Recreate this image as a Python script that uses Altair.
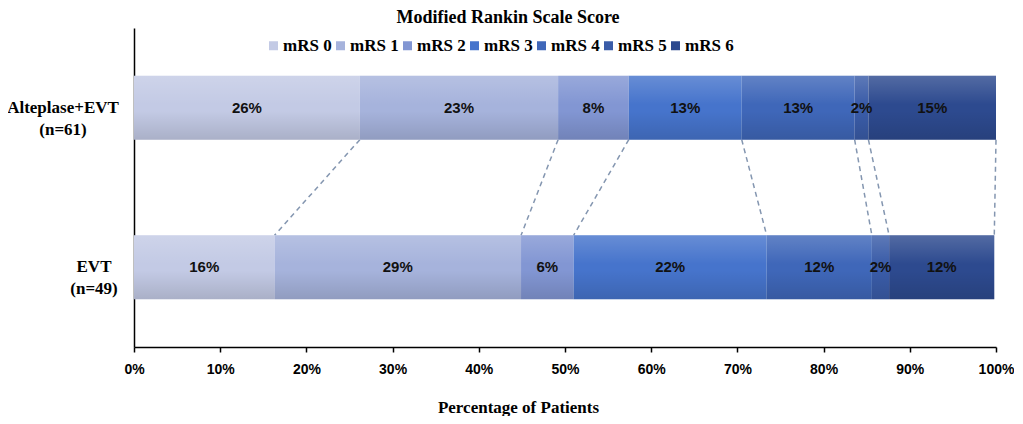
import altair as alt
import pandas as pd

# ---------------- data ----------------
chart_title = "Modified Rankin Scale Score"
x_title = "Percentage of Patients"
groups = ["Alteplase+EVT\n(n=61)", "EVT\n(n=49)"]
categories = ["mRS 0", "mRS 1", "mRS 2", "mRS 3", "mRS 4", "mRS 5", "mRS 6"]
alteplase_evt = [26.2, 23.0, 8.2, 13.1, 13.1, 1.6, 14.8]
evt_only = [16.3, 28.6, 6.1, 22.4, 12.2, 2.0, 12.2]
x_ticks = [0, 10, 20, 30, 40, 50, 60, 70, 80, 90, 100]

# ---------------- style ----------------
colors = ["#c3cae5", "#a6b3dc", "#8296d3", "#4674cc", "#3f67b9", "#3a5ca8", "#2d4a8f"]
group_pos = [1.5, 0.5]     # row positions on the y scale
half = 0.2                 # half bar thickness in y units
W, H = 862, 319

series = [alteplase_evt, evt_only]
rows, conns = [], []
for gi, (g, vals) in enumerate(zip(groups, series)):
    cum = 0.0
    for c, v in zip(categories, vals):
        rows.append(dict(group=g, cat=c, start=cum, end=cum + v, mid=cum + v / 2,
                         label=f"{round(v)}%", pos=group_pos[gi],
                         y0=group_pos[gi] - half, y1=group_pos[gi] + half))
        cum += v
df = pd.DataFrame(rows)

cumA, cumB = 0.0, 0.0
for a, b in zip(alteplase_evt, evt_only):
    cumA += a
    cumB += b
    conns.append(dict(xa=cumA, xb=cumB, ya=group_pos[0] - half, yb=group_pos[1] + half))
cdf = pd.DataFrame(conns)

xs = alt.Scale(domain=[0, 100], nice=False, zero=False)
ys = alt.Scale(domain=[0, 2], nice=False, zero=False)

base = alt.Chart(df)

bars = base.mark_bar().encode(
    x=alt.X("start:Q", scale=xs, title=x_title,
            axis=alt.Axis(values=x_ticks, labelExpr="datum.value + '%'", grid=False,
                          labelFlush=False,
                          labelFont="Liberation Sans", labelFontWeight="bold", labelFontSize=14,
                          labelColor="#000000", labelPadding=10, tickSize=5, tickColor="#000000",
                          tickWidth=1.5, domainColor="#000000", domainWidth=1.5,
                          titleFont="Liberation Serif", titleFontWeight="bold", titleFontSize=17,
                          titleColor="#000000", titleX=384, titleY=60, titleAlign="center",
                          titleBaseline="middle")),
    x2="end:Q",
    y=alt.Y("y0:Q", scale=ys,
            axis=alt.Axis(labels=False, ticks=False, grid=False, title=None,
                          domainColor="#000000", domainWidth=1.5)),
    y2="y1:Q",
    color=alt.Color("cat:N", scale=alt.Scale(domain=categories, range=colors),
                    legend=alt.Legend(title=None, orient="none", direction="horizontal",
                                      columns=7, legendX=131, legendY=9, padding=0,
                                      symbolType="square", symbolSize=81, symbolStrokeWidth=0,
                                      labelFont="Liberation Serif", labelFontWeight="bold",
                                      labelFontSize=17, labelColor="#000000", labelOffset=1,
                                      columnPadding=-4)),
)

shade = base.mark_bar(
    fill=alt.LinearGradient(
        gradient="linear", x1=0, x2=0, y1=0, y2=1,
        stops=[alt.GradientStop(color="rgba(255,255,255,0.18)", offset=0),
               alt.GradientStop(color="rgba(255,255,255,0)", offset=0.45),
               alt.GradientStop(color="rgba(0,0,0,0)", offset=0.55),
               alt.GradientStop(color="rgba(0,0,0,0.13)", offset=1)])
).encode(x=alt.X("start:Q", scale=xs), x2="end:Q", y=alt.Y("y0:Q", scale=ys), y2="y1:Q")

labels = base.mark_text(font="Liberation Sans", fontWeight="bold", fontSize=15,
                        color="#111111").encode(
    x=alt.X("mid:Q", scale=xs), y=alt.Y("pos:Q", scale=ys), text="label:N")

connectors = alt.Chart(cdf).mark_rule(strokeDash=[5, 4], color="#8496b0", strokeWidth=1.5).encode(
    x=alt.X("xa:Q", scale=xs), x2="xb:Q", y=alt.Y("ya:Q", scale=ys), y2="yb:Q")

gdf = pd.DataFrame({"group": groups, "pos": group_pos})
ylab_style = dict(font="Liberation Serif", fontWeight="bold", fontSize=17, color="#000000",
                  align="center", baseline="middle", lineBreak="\n", lineHeight=22)
ylab1 = alt.Chart(gdf).transform_filter(alt.datum.group == groups[0]).mark_text(**ylab_style).encode(
    x=alt.value(-71), y=alt.Y("pos:Q", scale=ys), text="group:N")
ylab2 = alt.Chart(gdf).transform_filter(alt.datum.group == groups[1]).mark_text(**ylab_style).encode(
    x=alt.value(-40), y=alt.Y("pos:Q", scale=ys), text="group:N")

title = alt.Chart(pd.DataFrame({"t": [chart_title]})).mark_text(
    font="Liberation Serif", fontWeight="bold", fontSize=18, color="#000000",
    align="center", baseline="top").encode(x=alt.value(374), y=alt.value(-19), text="t:N")

chart = alt.layer(connectors, bars, shade, labels, ylab1, ylab2, title).properties(
    width=W, height=H, autosize="none",
    padding={"left": 126, "top": 20, "right": 18, "bottom": 69},
).configure_view(strokeWidth=0)

chart.save("out.html", embed_options={"renderer": "svg", "actions": False})
